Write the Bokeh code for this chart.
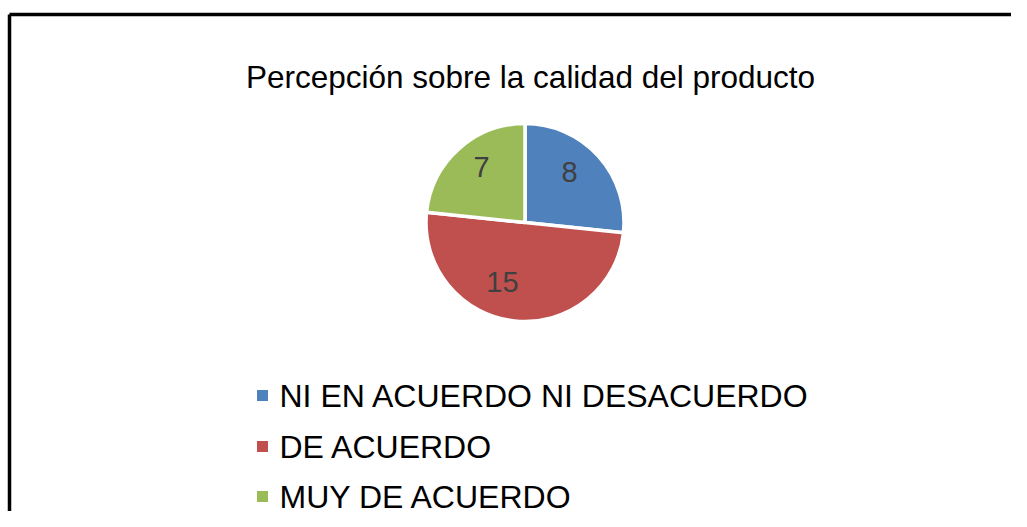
import math
from bokeh.plotting import figure
from bokeh.models import Range1d
from bokeh.core.properties import value
from bokeh.embed import file_html
from bokeh.resources import INLINE

# ---- data ----
categories = ["NI EN ACUERDO NI DESACUERDO", "DE ACUERDO", "MUY DE ACUERDO"]
counts = [8, 15, 7]
colors = ["#4F81BD", "#C0504D", "#9BBB59"]
title_text = "Percepción sobre la calidad del producto"

# ---- layout (picture pixels) ----
W, H = 1011, 511


def px(x):
    return x


def py(y):
    return H - y


FONT = value("Liberation Sans")

p = figure(width=W, height=H, output_backend="svg", toolbar_location=None,
           x_range=Range1d(0, W), y_range=Range1d(0, H),
           min_border=0, min_border_left=0, min_border_right=0,
           min_border_top=0, min_border_bottom=0)
p.axis.visible = False
p.grid.visible = False
p.outline_line_color = None
p.background_fill_color = "white"
p.border_fill_color = "white"

# chart border (partially visible)
p.segment(x0=[px(9), px(9)], y0=[py(14), py(14)],
          x1=[px(9), px(1100)], y1=[py(600), py(14)],
          line_color="black", line_width=3.5)

# title
p.text(x=[px(530)], y=[py(76)], text=[title_text], text_font=FONT,
       text_font_size="31.5px", text_color="black", text_align="center",
       text_baseline="middle")

# pie
cx, cy, R = px(524.5), py(222), 99
total = sum(counts)
starts, ends, mids = [], [], []
cum = 0
for c in counts:
    a0 = math.pi / 2 - 2 * math.pi * cum / total
    cum += c
    a1 = math.pi / 2 - 2 * math.pi * cum / total
    starts.append(a0)
    ends.append(a1)
    mids.append((a0 + a1) / 2)

p.wedge(x=[cx] * len(counts), y=[cy] * len(counts), radius=R,
        start_angle=starts, end_angle=ends, direction="clock",
        fill_color=colors, line_color="white", line_width=3.5)

# data labels ("best fit" style nudges, screen px)
label_dx = [-5.5, -15.5, 1.5]
label_dy = [-5, -7, -5]
lr = 0.68 * R
lx = [cx + lr * math.cos(m) for m in mids]
ly = [cy + lr * math.sin(m) for m in mids]
p.text(x=lx, y=ly, text=[str(c) for c in counts], text_font=FONT,
       text_font_size="29px", text_color="#404040", text_align="center",
       text_baseline="middle", x_offset=label_dx, y_offset=label_dy)

# legend
row_mid = [395, 446, 496]
p.scatter(x=[px(262)] * 3, y=[py(m) for m in row_mid], marker="square",
          size=11, fill_color=colors, line_color=None)
p.text(x=[px(279)] * 3, y=[py(m) for m in row_mid], text=categories,
       text_font=FONT, text_font_size="32px", text_color="black",
       text_align="left", text_baseline="middle")

open("out.html", "w").write(file_html(p, INLINE))
